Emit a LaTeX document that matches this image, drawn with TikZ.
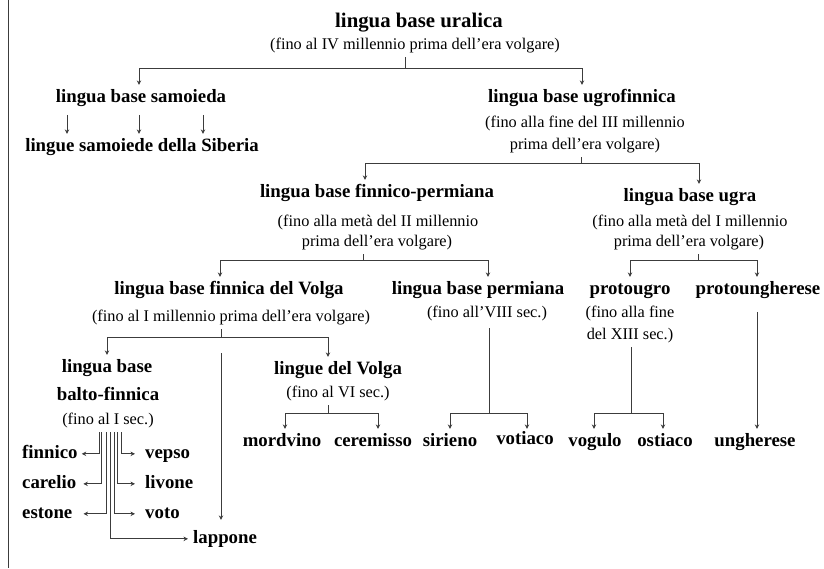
\documentclass[tikz,border=0pt]{standalone}
\usepackage{fontspec}
\setmainfont{Liberation Serif}
\usetikzlibrary{arrows.meta}
\definecolor{lc}{RGB}{60,60,60}
\begin{document}
\begin{tikzpicture}[x=1pt,y=-1pt,
 bn/.style={font=\fontsize{18.8}{22}\selectfont\bfseries, anchor=base, inner xsep=1pt, inner ysep=4pt, text height=12.9pt, text depth=4.6pt},
 tn/.style={bn, font=\fontsize{20.8}{24}\selectfont\bfseries},
 rn/.style={font=\fontsize{16.3}{19}\selectfont, anchor=base, inner xsep=1pt, inner ysep=4pt, text height=11.2pt, text depth=4pt},
 conn/.style={draw=lc, line width=0.75pt},
 arr/.style={conn, -{Stealth[length=4.5pt,width=4.5pt,inset=1.5pt]}},
]
\useasboundingbox (0,0) rectangle (824,568);
\draw[line width=1.4pt, draw=lc] (8.5,0) -- (8.5,568);

% texts
\node[tn] (ural) at (419,27) {lingua base uralica};
\node[rn] (uralD) at (415,49) {(fino al IV millennio prima dell'era volgare)};
\node[bn] (samo) at (141,102) {lingua base samoieda};
\node[bn] (sib) at (142,151) {lingue samoiede della Siberia};
\node[bn] (ugro) at (582,102) {lingua base ugrofinnica};
\node[rn] (ugroA) at (585,127) {(fino alla fine del III millennio};
\node[rn] (ugroB) at (585,149) {prima dell'era volgare)};
\node[bn] (fp) at (377,197) {lingua base finnico-permiana};
\node[rn] (fpA) at (378,226) {(fino alla metà del II millennio};
\node[rn] (fpB) at (377,246) {prima dell'era volgare)};
\node[bn] (ugra) at (690,201) {lingua base ugra};
\node[rn] (ugraA) at (690,226) {(fino alla metà del I millennio};
\node[rn] (ugraB) at (689,246) {prima dell'era volgare)};
\node[bn] (volga) at (229,294) {lingua base finnica del Volga};
\node[rn] (volgaD) at (231,321) {(fino al I millennio prima dell'era volgare)};
\node[bn] (perm) at (478,294) {lingua base permiana};
\node[rn] (permD) at (487,317) {(fino all'VIII sec.)};
\node[bn] (pug) at (630,294) {protougro};
\node[rn] (pugA) at (630,317) {(fino alla fine};
\node[rn] (pugB) at (630,339) {del XIII sec.)};
\node[bn] (pun) at (758,294) {protoungherese};
\node[bn] (bf1) at (107,372) {lingua base};
\node[bn] (bf2) at (108,400) {balto-finnica};
\node[rn] (bfD) at (108,424) {(fino al I sec.)};
\node[bn] (lv) at (338,374) {lingue del Volga};
\node[rn] (lvD) at (338,397) {(fino al VI sec.)};
\node[bn] (mord) at (282,446) {mordvino};
\node[bn] (cere) at (373,446) {ceremisso};
\node[bn] (sir) at (450,446) {sirieno};
\node[bn] (vot) at (525,444) {votiaco};
\node[bn] (vog) at (595,446) {vogulo};
\node[bn] (ost) at (665,446) {ostiaco};
\node[bn] (ung) at (755,446) {ungherese};
\node[bn,anchor=base west] (finn) at (21,458) {finnico};
\node[bn,anchor=base west] (car) at (21,488) {carelio};
\node[bn,anchor=base west] (est) at (21,518) {estone};
\node[bn,anchor=base west] (veps) at (144,458) {vepso};
\node[bn,anchor=base west] (liv) at (144,488) {livone};
\node[bn,anchor=base west] (voto) at (144,518) {voto};
\node[bn,anchor=base west] (lapp) at (192,543) {lappone};

% uralica
\coordinate (jU) at (405,68);
\draw[conn] (uralD.south -| jU) -- (jU);
\draw[arr] (jU) -| ([xshift=-2pt]samo.north);
\draw[arr] (jU) -| (ugro.north);
% samoieda
\draw[arr, shorten <=4pt] ([xshift=-74pt]samo.south) -- ([xshift=-75pt]sib.north);
\draw[arr, shorten <=4pt] ([xshift=-2pt]samo.south) -- ([xshift=-3pt]sib.north);
\draw[arr, shorten <=4pt] ([xshift=62pt]samo.south) -- ([xshift=61pt]sib.north);
% ugrofinnica
\coordinate (jUg) at (581,163);
\draw[conn] (ugroB.south -| jUg) -- (jUg);
\draw[arr] (jUg) -| ([xshift=-12pt]fp.north);
\draw[arr] (jUg) -| ([xshift=9pt]ugra.north);
% finnico-permiana
\coordinate (jFP) at (363,260);
\draw[conn] (fpB.south -| jFP) -- (jFP);
\draw[arr] (jFP) -| ([xshift=-9pt]volga.north);
\draw[arr] (jFP) -| ([xshift=10pt]perm.north);
% ugra
\coordinate (jUgr) at (698,260);
\draw[conn] (ugraB.south -| jUgr) -- (jUgr);
\draw[arr] (jUgr) -| (pug.north);
\draw[arr] (jUgr) -| ([xshift=-1pt]pun.north);
% finnica del Volga
\coordinate (jV) at (221,337);
\draw[conn] (volgaD.south -| jV) -- (jV);
\draw[arr] (jV) -| (bf1.north);
\draw[arr] (jV) -| ([xshift=-10pt]lv.north);
\coordinate (jL) at (221,353);
\draw[arr] (jL) -- ([yshift=6pt]jL |- lapp.north);
% permiana
\coordinate (jP) at (489,413);
\draw[conn, shorten <=3pt] (permD.south -| jP) -- (jP);
\draw[arr] (jP) -| (sir.north);
\draw[arr] (jP) -| ([xshift=2pt,yshift=-2pt]vot.north);
% protougro
\coordinate (jPu) at (631,413);
\draw[conn] (pugB.south -| jPu) -- (jPu);
\draw[arr] (jPu) -| ([xshift=-1pt]vog.north);
\draw[arr] (jPu) -| ([xshift=-2pt]ost.north);
% protoungherese
\draw[arr, shorten <=9pt] ([xshift=-1pt]pun.south) -- ([xshift=2pt]ung.north);
% lingue del Volga
\coordinate (jLV) at (328,413);
\draw[conn] (lvD.south -| jLV) -- (jLV);
\draw[arr] (jLV) -| ([xshift=3pt]mord.north);
\draw[arr] (jLV) -| ([xshift=5pt]cere.north);
% balto-finnica bundle
\draw[arr] ([xshift=-9pt]bfD.south) |- ([xshift=3pt]finn.east);
\draw[arr] ([xshift=-6.3pt]bfD.south) |- ([xshift=6pt]car.east);
\draw[arr] ([xshift=-1.3pt]bfD.south) |- ([xshift=10pt]est.east);
\draw[arr] ([xshift=2pt]bfD.south) |- ([xshift=-4pt]lapp.west);
\draw[arr] ([xshift=6pt]bfD.south) |- ([xshift=-9pt]voto.west);
\draw[arr] ([xshift=9.3pt]bfD.south) |- ([xshift=-9pt]liv.west);
\draw[arr] ([xshift=13.7pt]bfD.south) |- ([xshift=-9pt]veps.west);
\end{tikzpicture}
\end{document}
